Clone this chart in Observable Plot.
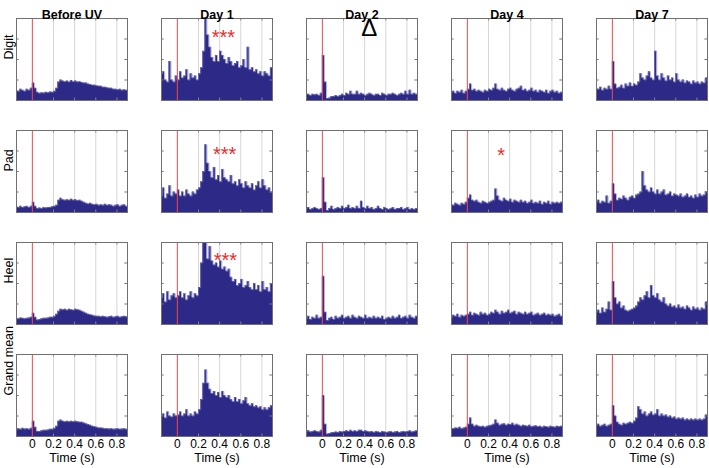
<!DOCTYPE html>
<html>
<head>
<meta charset="utf-8">
<script src="https://cdn.jsdelivr.net/npm/d3@7"></script>
<script src="https://cdn.jsdelivr.net/npm/@observablehq/plot@0.6"></script>
<style>
  html, body { margin: 0; padding: 0; background: #fff; }
  #chart { width: 709px; height: 468px; }
</style>
</head>
<body>
<div id="chart"></div>
<script>
// Column (condition) and row (region) categories
const conditions = ["Before UV", "Day 1", "Day 2", "Day 4", "Day 7"];
const regions = ["Digit", "Pad", "Heel", "Grand mean"];

// Histogram bins: start time of first bin and bin width (s)
const binStart = -0.16;
const binWidth = 0.02;

// Axis ticks
const xTicks = [0, 0.2, 0.4, 0.6, 0.8];
const gridTicks = [0.2, 0.4, 0.6, 0.8];
const yTicks = [1, 2, 3];

// Firing rate per bin (arbitrary units, axis 0..4), 53 bins from -0.16 s
const digitBefore = [0.5,0.45,0.55,0.5,0.45,0.55,0.5,0.6,0.85,0.6,0.4,0.35,0.38,0.36,0.4,0.38,0.42,0.4,0.45,0.6,0.9,1.0,0.95,0.92,0.95,0.9,0.98,0.92,0.95,0.9,0.92,0.88,0.85,0.85,0.8,0.78,0.75,0.75,0.72,0.7,0.7,0.65,0.65,0.62,0.6,0.6,0.55,0.55,0.52,0.55,0.5,0.52,0.5];
const digitDay1 = [1.3,1.4,1.0,0.9,1.9,1.0,0.9,1.2,1.0,1.4,1.1,1.2,1.5,1.0,1.3,1.1,1.2,1.0,1.3,1.6,2.4,4.0,3.2,2.6,2.1,1.9,2.2,1.9,2.4,2.2,2.0,1.8,2.1,1.9,1.7,1.8,1.9,1.6,1.7,2.0,1.6,2.6,1.5,1.6,1.4,1.5,1.3,1.4,1.2,1.4,1.3,1.2,1.6];
const digitDay2 = [0.3,0.3,0.25,0.3,0.28,0.3,0.25,0.35,2.2,0.9,0.1,0.12,0.2,0.2,0.25,0.2,0.25,0.3,0.25,0.35,0.3,0.45,0.3,0.3,0.45,0.3,0.35,0.3,0.25,0.3,0.35,0.3,0.25,0.3,0.3,0.25,0.35,0.3,0.25,0.3,0.3,0.35,0.3,0.25,0.3,0.35,0.3,0.45,0.3,0.5,0.3,0.35,0.3];
const digitDay4 = [0.4,0.45,0.35,0.45,0.4,0.5,0.35,0.45,0.55,0.8,0.5,0.55,0.45,0.5,0.45,0.4,0.5,0.45,0.55,0.5,0.6,0.8,0.55,0.5,0.6,0.5,0.45,0.55,0.6,0.5,0.45,0.55,0.6,0.7,0.5,0.55,0.45,0.5,0.6,0.45,0.5,0.4,0.5,0.45,0.4,0.5,0.35,0.45,0.5,0.4,0.45,0.35,0.4];
const digitDay7 = [0.6,0.55,0.65,0.5,0.6,0.55,0.7,0.55,1.9,0.8,0.6,0.65,0.75,0.6,0.8,0.7,0.85,0.7,0.8,0.75,0.9,1.3,1.1,1.0,1.2,1.4,1.1,1.0,2.4,1.2,1.0,1.3,1.1,0.95,1.2,1.0,1.1,0.9,1.3,1.0,0.9,1.0,0.85,0.95,0.9,0.8,0.95,0.85,0.9,0.8,0.9,0.85,1.1];

const padBefore = [0.3,0.25,0.3,0.25,0.28,0.3,0.25,0.3,0.5,0.3,0.2,0.22,0.2,0.25,0.22,0.25,0.25,0.28,0.3,0.35,0.6,0.7,0.62,0.6,0.62,0.6,0.65,0.6,0.62,0.58,0.6,0.55,0.5,0.45,0.42,0.45,0.4,0.38,0.4,0.35,0.38,0.35,0.4,0.35,0.38,0.35,0.3,0.35,0.38,0.3,0.35,0.38,0.3];
const padDay1 = [0.8,1.2,0.7,0.9,1.3,0.8,1.0,0.9,1.1,0.8,1.0,0.8,1.1,0.9,0.8,1.0,0.9,1.1,1.2,1.5,2.0,3.3,2.4,2.0,1.7,2.2,1.6,1.8,1.5,2.1,1.7,1.6,1.5,1.8,1.4,1.5,1.3,1.6,1.4,1.2,1.5,1.3,1.2,1.4,1.1,1.3,1.5,1.2,1.6,1.3,1.1,1.2,1.0];
const padDay2 = [0.2,0.25,0.15,0.2,0.25,0.2,0.15,0.2,1.7,0.5,0.1,0.2,0.3,0.15,0.2,0.25,0.2,0.3,0.2,0.25,0.35,0.2,0.25,0.2,0.3,0.2,0.55,0.25,0.2,0.3,0.2,0.25,0.15,0.2,0.3,0.2,0.15,0.25,0.2,0.15,0.2,0.25,0.15,0.2,0.2,0.25,0.15,0.2,0.25,0.15,0.2,0.15,0.2];
const padDay4 = [0.4,0.35,0.45,0.4,0.35,0.45,0.4,0.5,0.7,0.85,0.6,0.55,0.6,0.5,0.45,0.55,0.5,0.45,0.5,0.55,0.6,1.15,0.8,0.6,0.55,0.7,0.6,0.55,0.65,0.5,0.6,0.55,0.5,0.6,0.5,0.55,0.45,0.5,0.6,0.45,0.5,0.45,0.55,0.4,0.5,0.45,0.55,0.4,0.5,0.45,0.5,0.45,0.5];
const padDay7 = [0.5,0.6,0.45,0.55,0.5,0.8,0.45,0.55,1.4,0.9,0.6,0.7,0.65,0.8,0.7,0.6,0.75,0.8,0.7,0.85,0.9,1.0,2.0,1.3,1.1,1.0,1.2,1.0,0.9,1.1,0.9,1.0,1.1,0.85,0.9,1.0,0.8,0.9,0.85,0.8,0.9,0.75,0.8,0.9,0.75,0.8,0.7,0.85,0.75,0.9,0.8,0.85,1.0];

const heelBefore = [0.3,0.28,0.32,0.3,0.28,0.3,0.32,0.35,0.55,0.35,0.22,0.25,0.28,0.3,0.3,0.32,0.35,0.35,0.4,0.5,0.65,0.75,0.72,0.75,0.7,0.75,0.72,0.7,0.75,0.72,0.7,0.65,0.6,0.55,0.5,0.48,0.45,0.42,0.4,0.4,0.38,0.4,0.38,0.35,0.38,0.4,0.35,0.38,0.4,0.35,0.38,0.4,0.38];
const heelDay1 = [1.3,1.5,1.1,1.6,1.2,1.4,1.5,1.3,1.4,1.6,1.3,1.5,1.2,1.4,1.6,1.3,1.5,1.4,1.8,3.0,4.0,4.0,3.2,3.8,3.1,2.9,3.0,2.8,3.1,2.7,2.8,2.6,2.7,2.3,2.1,2.2,1.9,2.0,2.2,1.8,1.9,2.1,1.8,1.7,2.0,1.7,1.9,1.6,2.1,1.7,1.8,1.6,2.0];
const heelDay2 = [0.3,0.4,0.25,0.35,0.3,0.45,0.3,0.35,2.35,0.6,0.2,0.3,0.35,0.25,0.4,0.3,0.35,0.45,0.3,0.35,0.4,0.3,0.45,0.35,0.3,0.4,0.35,0.3,0.45,0.3,0.35,0.3,0.4,0.3,0.35,0.3,0.4,0.25,0.3,0.35,0.3,0.4,0.3,0.35,0.45,0.3,0.35,0.4,0.3,0.45,0.35,0.3,0.4];
const heelDay4 = [0.35,0.45,0.4,0.5,0.35,0.45,0.4,0.45,0.5,0.6,0.45,0.55,0.5,0.45,0.6,0.5,0.55,0.45,0.5,0.6,0.55,0.7,0.6,0.5,0.65,0.55,0.6,0.7,0.55,0.6,0.65,0.5,0.6,0.55,0.5,0.6,0.5,0.55,0.6,0.45,0.5,0.55,0.45,0.5,0.55,0.45,0.5,0.45,0.5,0.4,0.45,0.5,0.4];
const heelDay7 = [0.6,0.7,0.55,0.8,0.6,0.75,1.1,0.7,2.1,1.3,1.0,1.1,0.8,0.9,0.7,0.65,0.7,0.75,0.8,0.9,1.1,1.3,1.2,1.4,1.6,1.3,1.9,1.4,1.3,1.5,1.2,1.1,1.3,1.0,0.9,1.0,0.85,0.9,0.8,0.95,0.8,0.85,0.75,0.9,0.8,0.7,0.85,0.75,0.8,0.7,0.8,0.75,1.1];

const meanBefore = [0.35,0.38,0.35,0.4,0.36,0.38,0.35,0.4,0.75,0.45,0.25,0.25,0.28,0.3,0.3,0.32,0.35,0.35,0.4,0.5,0.75,0.8,0.75,0.72,0.74,0.72,0.74,0.72,0.74,0.72,0.7,0.7,0.66,0.62,0.58,0.55,0.5,0.48,0.45,0.42,0.42,0.4,0.38,0.38,0.36,0.38,0.35,0.36,0.38,0.35,0.36,0.38,0.35];
const meanDay1 = [1.0,1.1,0.9,1.2,1.0,0.95,1.1,1.0,1.05,1.2,1.0,1.1,1.3,1.0,1.1,1.0,1.2,1.1,1.3,1.8,2.6,3.25,2.6,2.3,2.1,2.2,2.0,2.15,1.9,2.2,2.0,1.9,2.0,1.8,1.7,1.9,1.7,1.8,1.6,1.75,1.9,1.6,1.5,1.6,1.45,1.5,1.4,1.45,1.3,1.4,1.3,1.4,1.5];
const meanDay2 = [0.25,0.28,0.22,0.25,0.28,0.25,0.22,0.3,2.0,0.6,0.12,0.15,0.18,0.2,0.22,0.2,0.25,0.22,0.25,0.28,0.25,0.3,0.25,0.28,0.25,0.3,0.3,0.25,0.28,0.25,0.22,0.25,0.2,0.25,0.22,0.2,0.25,0.22,0.2,0.22,0.25,0.2,0.22,0.25,0.2,0.22,0.25,0.22,0.25,0.28,0.22,0.25,0.28];
const meanDay4 = [0.4,0.38,0.42,0.4,0.45,0.38,0.42,0.45,0.6,0.9,0.6,0.5,0.55,0.5,0.48,0.5,0.45,0.5,0.52,0.55,0.6,0.8,0.65,0.55,0.6,0.62,0.55,0.6,0.58,0.65,0.55,0.6,0.55,0.5,0.55,0.52,0.5,0.55,0.48,0.5,0.52,0.48,0.5,0.45,0.5,0.48,0.45,0.5,0.48,0.45,0.5,0.48,0.5];
const meanDay7 = [0.55,0.6,0.5,0.55,0.6,0.5,0.55,0.6,1.5,1.0,0.7,0.6,0.55,0.65,0.6,0.65,0.7,0.65,0.75,0.9,1.45,1.3,1.1,1.2,1.0,1.1,1.2,1.05,1.1,1.3,1.0,1.1,1.0,1.05,0.95,1.0,0.9,0.95,0.85,0.9,0.85,0.9,0.8,0.85,0.8,0.85,0.8,0.85,0.8,0.85,0.8,0.85,1.05];

// Significance markers
const starConds = ["Day 1", "Day 1", "Day 1", "Day 4"];
const starRegions = ["Digit", "Pad", "Heel", "Pad"];
const starLabels = ["***", "***", "***", "*"];
const starTimes = [0.435, 0.447, 0.454, 0.32];
const starLevels = [3.33, 3.08, 3.38, 3.0];

const deltaCond = "Day 2";
const deltaRegion = "Digit";
const deltaTime = 0.444;
const deltaLevel = 3.5;

// ---- build tables from the arrays ----
const panels = [
  ["Before UV", "Digit", digitBefore], ["Day 1", "Digit", digitDay1], ["Day 2", "Digit", digitDay2], ["Day 4", "Digit", digitDay4], ["Day 7", "Digit", digitDay7],
  ["Before UV", "Pad", padBefore], ["Day 1", "Pad", padDay1], ["Day 2", "Pad", padDay2], ["Day 4", "Pad", padDay4], ["Day 7", "Pad", padDay7],
  ["Before UV", "Heel", heelBefore], ["Day 1", "Heel", heelDay1], ["Day 2", "Heel", heelDay2], ["Day 4", "Heel", heelDay4], ["Day 7", "Heel", heelDay7],
  ["Before UV", "Grand mean", meanBefore], ["Day 1", "Grand mean", meanDay1], ["Day 2", "Grand mean", meanDay2], ["Day 4", "Grand mean", meanDay4], ["Day 7", "Grand mean", meanDay7]
];

// Step outline of each histogram: each bin contributes its left and right edge
const outline = [];
for (const [cond, region, values] of panels) {
  values.forEach((v, i) => {
    const x1 = +(binStart + i * binWidth).toFixed(3);
    const x2 = +(binStart + (i + 1) * binWidth).toFixed(3);
    const key = cond + "|" + region;
    outline.push({cond, region, key, x: x1, y: v});
    outline.push({cond, region, key, x: x2, y: v});
  });
}

const stars = starLabels.map((t, i) => ({cond: starConds[i], region: starRegions[i], text: t, x: starTimes[i], y: starLevels[i]}));

const navy = "#2d2a87";
const lavender = "#8784c8";

const chart = Plot.plot({
  width: 709,
  height: 468,
  marginLeft: 15,
  marginRight: 1,
  marginTop: 17,
  marginBottom: 31,
  style: {fontFamily: "'Liberation Sans', Arial, sans-serif", fontSize: "12px", background: "#fff", overflow: "visible"},
  fx: {domain: conditions, paddingInner: 0.237, paddingOuter: 0, axis: null, label: null},
  fy: {domain: regions, paddingInner: 0.272, paddingOuter: 0, axis: null, label: null},
  x: {domain: [-0.15, 0.9], label: null},
  y: {domain: [0, 4], axis: null, label: null},
  marks: [
    Plot.ruleX(gridTicks, {stroke: "#d6d6d6", strokeWidth: 1}),
    Plot.area(outline, {x1: "x", y1: 0, y2: "y", z: "key", fx: "cond", fy: "region", fill: navy, curve: "linear", clip: true}),
    Plot.line(outline, {x: "x", y: "y", z: "key", fx: "cond", fy: "region", stroke: lavender, strokeWidth: 0.6, curve: "linear", clip: true}),
    Plot.ruleX([0], {stroke: "#f0474a", strokeWidth: 1}),
    Plot.ruleY(yTicks, {x1: -0.15, x2: -0.125, stroke: "#777"}),
    Plot.ruleY(yTicks, {x1: 0.875, x2: 0.9, stroke: "#777"}),
    Plot.ruleX(gridTicks, {y1: 0, y2: 0.12, stroke: "#888"}),
    Plot.ruleX(gridTicks, {y1: 3.88, y2: 4, stroke: "#888"}),
    Plot.frame({stroke: "#707070", strokeWidth: 1}),
    Plot.axisX({ticks: xTicks, tickSize: 0, tickPadding: 3, label: null, fontSize: 12, tickFormat: d => String(d)}),
    Plot.text(stars, {x: "x", y: "y", text: "text", fx: "cond", fy: "region", fill: "#ee2b2b", fontSize: 20, dy: 5}),
    Plot.text([deltaCond], {x: () => deltaTime, y: () => deltaLevel, text: () => "Δ", fx: d => d, fy: () => deltaRegion, fill: "#000", fontSize: 24}),
    Plot.text(conditions, {fx: d => d, fy: () => regions[0], text: d => d, frameAnchor: "top", dy: -8, fontWeight: "bold", fontSize: 12.5, fill: "#000"}),
    Plot.text(regions, {fy: d => d, fx: () => conditions[0], text: d => d, frameAnchor: "left", rotate: -90, dx: -8, fontSize: 12.5, fill: "#000"}),
    Plot.text(conditions, {fx: d => d, fy: () => regions[regions.length - 1], text: () => "Time (s)", frameAnchor: "bottom", dy: 25, fontSize: 12.5, fill: "#000"})
  ]
});

document.getElementById("chart").appendChild(chart);
</script>
</body>
</html>
